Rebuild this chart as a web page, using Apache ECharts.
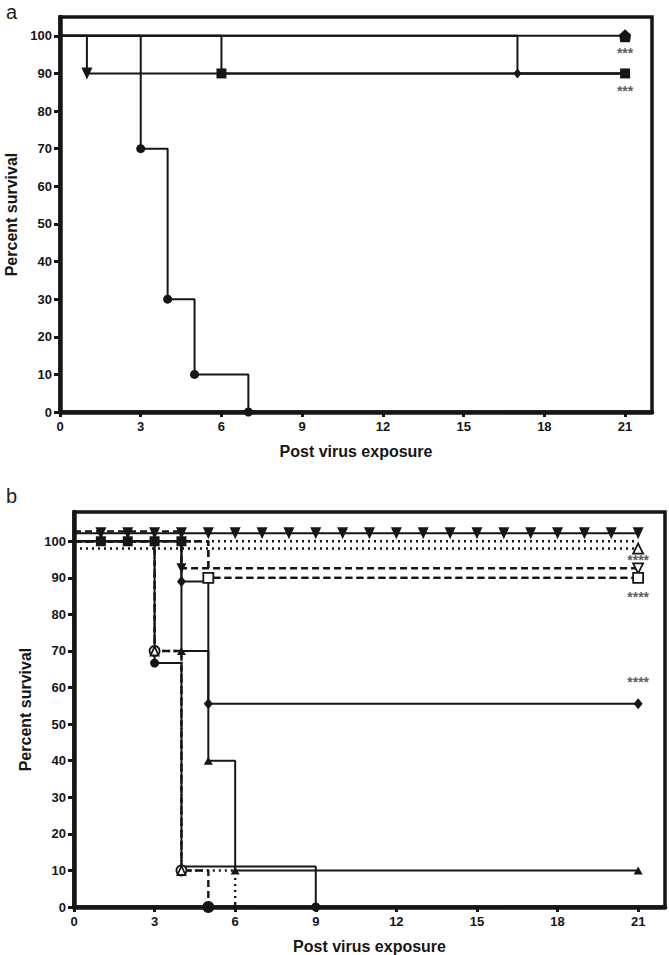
<!DOCTYPE html>
<html><head><meta charset="utf-8">
<script src="https://cdn.jsdelivr.net/npm/echarts@6/dist/echarts.min.js"></script>
<style>html,body{margin:0;padding:0;background:#fff}#c{width:669px;height:955px}</style>
</head><body><div id="c"></div>
<script>
// ---------- labels ----------
const xTicks = [0, 3, 6, 9, 12, 15, 18, 21];
const yTicks = [0, 10, 20, 30, 40, 50, 60, 70, 80, 90, 100];
const xTitle = 'Post virus exposure';
const yTitle = 'Percent survival';
const panelLetters = ['a', 'b'];

// ---------- panel a : Kaplan-Meier step points [day, percent] ----------
const a_circle      = [[0,100],[3,70],[4,30],[5,10],[7,0]];
const a_invTriangle = [[0,100],[1,90],[21,90]];
const a_square      = [[0,100],[6,90],[21,90]];
const a_diamond     = [[0,100],[17,90],[21,90]];
const a_full        = [[0,100],[21,100]];
const a_stars       = [[21,95.4,'***'],[21,85.3,'***']];

// ---------- panel b ----------
const b_invTriSolid  = [[0,102.2],[1,102.2],[2,102.2],[3,102.2],[4,102.2],[5,102.2],[6,102.2],[7,102.2],[8,102.2],[9,102.2],[10,102.2],[11,102.2],[12,102.2],[13,102.2],[14,102.2],[15,102.2],[16,102.2],[17,102.2],[18,102.2],[19,102.2],[20,102.2],[21,102.2]];
const b_invTriDashed = [[0,102.7],[4,92.6],[21,92.6]];
const b_squareDashed = [[0,100],[1,100],[2,100],[3,100],[4,100],[5,90],[21,90]];
const b_dotted100    = [[0,100],[21,100]];
const b_triDotted98  = [[0,98],[21,98]];
const b_diamond      = [[0,100],[4,89],[5,55.6],[21,55.6]];
const b_triangle     = [[0,100],[4,70],[5,40],[6,10],[21,10]];
const b_circle       = [[0,100],[3,66.7],[4,11.1],[9,0]];
const b_circleDashed = [[0,100],[3,70],[4,10],[5,0]];
const b_triDotted    = [[0,100],[3,70],[4,10],[6,0]];
const b_stars        = [[21,95.0,'****'],[21,84.8,'****'],[21,61.4,'****']];

const INK = '#161616';
const DASH = [7, 4];
const DOT = [2, 4];
const PENTAGON = 'path://M5,0 L10,4.2 L9,10 L1,10 L0,4.2 Z';
const FILLED = { color: INK, borderColor: INK, borderWidth: 0 };
const HOLLOW = { color: '#fff', borderColor: INK, borderWidth: 1.8 };

function step(g, pts, o) {
  const marks = o.marks || [];
  const items = o.items || {};
  return {
    type: 'line', xAxisIndex: g, yAxisIndex: g, step: 'end',
    showAllSymbol: true, animation: false, silent: true,
    symbolRotate: o.rot || 0, symbolSize: o.size || 8,
    data: pts.map((p, i) => Object.assign({ value: p, symbol: marks.includes(i) ? o.symbol : 'none' }, items[i] || {})),
    lineStyle: { color: INK, width: o.w || 2, type: o.type || 'solid' },
    itemStyle: o.hollow ? HOLLOW : FILLED,
    z: o.z || 3
  };
}
function stars(g, pts) {
  return {
    type: 'scatter', xAxisIndex: g, yAxisIndex: g, symbolSize: 1, animation: false, silent: true,
    itemStyle: { color: 'rgba(0,0,0,0)' },
    data: pts.map(p => ({ value: [p[0], p[1]], name: p[2] })),
    label: { show: true, position: 'inside', formatter: p => p.name, fontSize: 14, fontWeight: 'bold',
             color: '#333', fontFamily: 'Liberation Sans' },
    z: 10
  };
}
function xAx(g) {
  return {
    gridIndex: g, type: 'value', min: 0, max: 22, interval: 3,
    axisLine: { show: true, onZero: false, lineStyle: { color: INK, width: 4.5 } },
    axisTick: { show: true, length: 5, customValues: xTicks, lineStyle: { color: INK, width: 3 } },
    axisLabel: { customValues: xTicks, margin: 8, fontSize: 13, fontWeight: 'bold', color: INK, fontFamily: 'Liberation Sans' },
    splitLine: { show: false },
    name: xTitle, nameLocation: 'middle', nameGap: 31,
    nameTextStyle: { fontSize: 16, fontWeight: 'bold', color: INK, fontFamily: 'Liberation Sans' }
  };
}
function yAx(g, max) {
  return {
    gridIndex: g, type: 'value', min: 0, max: max, interval: 10,
    axisLine: { show: true, onZero: false, lineStyle: { color: INK, width: 4.5 } },
    axisTick: { show: true, length: 6, customValues: yTicks, lineStyle: { color: INK, width: 3 } },
    axisLabel: { customValues: yTicks, margin: 8, fontSize: 13, fontWeight: 'bold', color: INK, fontFamily: 'Liberation Sans' },
    splitLine: { show: false },
    name: yTitle, nameLocation: 'middle', nameGap: 37, nameRotate: 90,
    nameTextStyle: { fontSize: 16, fontWeight: 'bold', color: INK, fontFamily: 'Liberation Sans' }
  };
}

const chart = echarts.init(document.getElementById('c'), null, { renderer: 'svg' });
chart.setOption({
  backgroundColor: '#fff',
  animation: false,
  title: [
    { text: panelLetters[0], left: 1, top: -3, textStyle: { fontSize: 20, fontWeight: 'normal', color: '#222', fontFamily: 'Liberation Sans' } },
    { text: panelLetters[1], left: 1, top: 481, textStyle: { fontSize: 20, fontWeight: 'normal', color: '#222', fontFamily: 'Liberation Sans' } }
  ],
  grid: [
    { left: 60, top: 17, width: 592, height: 395, show: true, borderColor: INK, borderWidth: 3.5, containLabel: false, outerBoundsMode: 'none' },
    { left: 74, top: 512, width: 591, height: 395, show: true, borderColor: INK, borderWidth: 3.5, containLabel: false, outerBoundsMode: 'none' }
  ],
  xAxis: [xAx(0), xAx(1)],
  yAxis: [yAx(0, 105), yAx(1, 108)],
  series: [
    // panel a
    step(0, a_full,        { symbol: PENTAGON, size: [12, 13], marks: [1] }),
    step(0, a_invTriangle, { symbol: 'triangle', rot: 180, size: [11, 12], marks: [1] }),
    step(0, a_diamond,     { symbol: 'diamond', size: [8, 10], marks: [1] }),
    step(0, a_square,      { symbol: 'rect', size: 10, marks: [1, 2] }),
    step(0, a_circle,      { symbol: 'circle', size: 9, marks: [1, 2, 3, 4] }),
    stars(0, a_stars),
    // panel b
    step(1, b_dotted100,    { type: DOT, w: 2.4, marks: [] }),
    step(1, b_triDotted98,  { type: DOT, w: 2.4, symbol: 'triangle', size: [10, 10], hollow: true, marks: [1] }),
    step(1, b_invTriDashed, { type: DASH, w: 2.4, symbol: 'triangle', rot: 180, size: [10, 10], hollow: true, marks: [1, 2],
                              items: { 1: { itemStyle: FILLED } } }),
    step(1, b_squareDashed, { type: DASH, w: 2.4, symbol: 'rect', size: 10, hollow: true, marks: [5, 6] }),
    step(1, b_squareDashed, { type: DASH, w: 0, symbol: 'rect', size: 10, marks: [1, 2, 3, 4] }),
    step(1, b_invTriSolid,  { symbol: 'triangle', rot: 180, size: [11, 12], marks: [1,2,3,4,5,6,7,8,9,10,11,12,13,14,15,16,17,18,19,20,21] }),
    step(1, b_diamond,      { symbol: 'diamond', size: [9, 11], marks: [1, 2, 3] }),
    step(1, b_triangle,     { symbol: 'triangle', size: [9, 8], marks: [1, 2, 3, 4] }),
    step(1, b_circle,       { symbol: 'circle', size: 9, marks: [1, 3] }),
    step(1, b_circleDashed, { type: DASH, w: 2.4, symbol: 'circle', size: 10, hollow: true, marks: [1, 2, 3],
                              items: { 3: { symbolSize: 12, itemStyle: FILLED } } }),
    step(1, b_triDotted,    { type: DOT, w: 2.4, symbol: 'triangle', size: [8, 9], hollow: true, marks: [1, 2, 3],
                              items: { 3: { symbol: 'diamond', symbolSize: [6, 8], itemStyle: FILLED } } }),
    stars(1, b_stars)
  ]
});
</script>
</body></html>
